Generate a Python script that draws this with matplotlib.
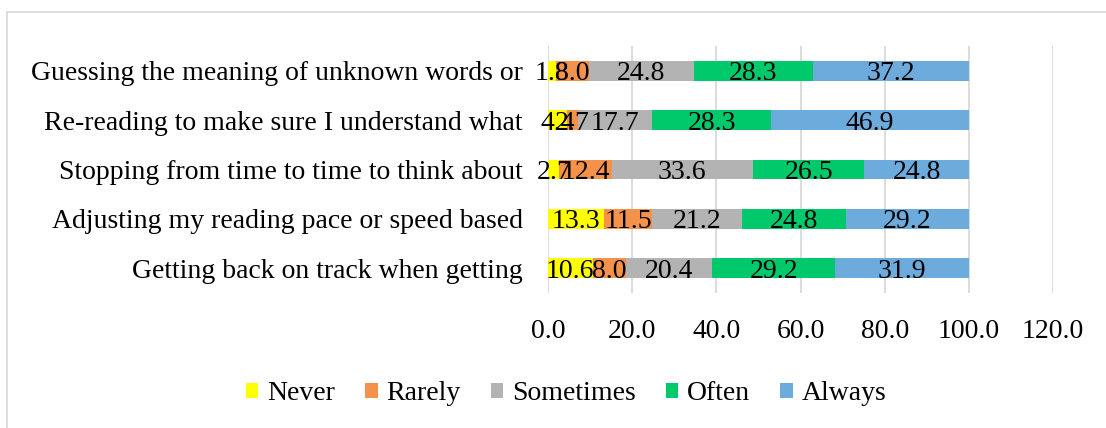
import matplotlib
matplotlib.use("Agg")
import matplotlib.pyplot as plt
import numpy as np

# Metacognitive reading strategies, percentages per response
strategies = [
    "Guessing the meaning of unknown words or",
    "Re-reading to make sure I understand what",
    "Stopping from time to time to think about",
    "Adjusting my reading pace or speed based",
    "Getting back on track when getting",
]
responses = ["Never", "Rarely", "Sometimes", "Often", "Always"]
never = [1.8, 4.4, 2.7, 13.3, 10.6]
rarely = [8.0, 2.7, 12.4, 11.5, 8.0]
sometimes = [24.8, 17.7, 33.6, 21.2, 20.4]
often = [28.3, 28.3, 26.5, 24.8, 29.2]
always = [37.2, 46.9, 24.8, 29.2, 31.9]
xticks = [0, 20, 40, 60, 80, 100, 120]

colors = ["#FFFF00", "#F4914A", "#B3B3B3", "#00C96B", "#6DABDD"]
series = [never, rarely, sometimes, often, always]

plt.rcParams["font.family"] = ["Liberation Serif", "DejaVu Serif"]
FS = 20

fig = plt.figure(figsize=(11.06, 4.28), dpi=100)
ax = fig.add_axes([548 / 1106, 1 - 293 / 428, (1053 - 548) / 1106, (293 - 46) / 428])

y = np.arange(len(strategies))
left = np.zeros(len(strategies))
for name, vals, col in zip(responses, series, colors):
    vals = np.array(vals)
    ax.barh(y, vals, left=left, height=0.4, color=col, label=name, zorder=2)
    for yi, l, v in zip(y, left, vals):
        ax.text(l + v / 2, yi, f"{v:.1f}", ha="center", va="center_baseline",
                fontsize=FS, color="black", zorder=3)
    left += vals

ax.set_yticks(y)
ax.set_yticklabels(strategies, fontsize=FS)
ax.set_ylim(len(strategies) - 0.5, -0.5)
ax.set_xlim(0, 120)
ax.set_xticks(xticks)
ax.set_xticklabels([f"{t:.1f}" for t in xticks], fontsize=FS)
ax.tick_params(axis="both", length=0)
ax.tick_params(axis="x", pad=19)
ax.tick_params(axis="y", pad=18)
ax.grid(True, axis="x", color="#D9D9D9", linewidth=1.3, zorder=0)
for s in ax.spines.values():
    s.set_visible(False)

ax.legend(loc="center", bbox_to_anchor=(566 / 1106, 1 - 394 / 428),
          bbox_transform=fig.transFigure, ncol=5, frameon=False, fontsize=FS,
          handlelength=0.45, handleheight=0.45, handletextpad=0.3,
          columnspacing=1.1, borderpad=0)

# outer chart border (top and left visible)
fig.add_artist(plt.Line2D([7 / 1106, 1], [1 - 12 / 428] * 2, color="#D9D9D9",
                          linewidth=1.2, transform=fig.transFigure))
fig.add_artist(plt.Line2D([7 / 1106] * 2, [0, 1 - 12 / 428], color="#D9D9D9",
                          linewidth=1.2, transform=fig.transFigure))

fig.savefig("out.png", dpi=100)
